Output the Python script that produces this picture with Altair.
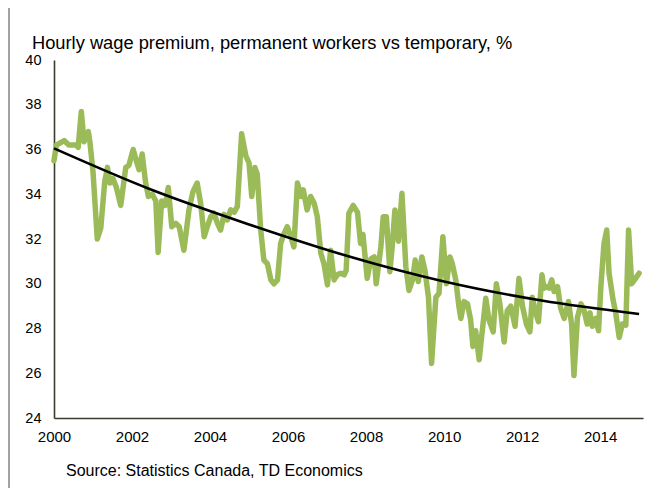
import altair as alt
import pandas as pd

# Monthly hourly wage premium (%)
years = [
    2000.00, 2000.06, 2000.26, 2000.38, 2000.56, 2000.62, 2000.70, 2000.77, 2000.88, 2000.92,
    2001.00, 2001.11, 2001.20, 2001.30, 2001.37, 2001.43, 2001.51, 2001.60, 2001.71, 2001.84,
    2001.92, 2002.03, 2002.11, 2002.18, 2002.26, 2002.35, 2002.42, 2002.52, 2002.61, 2002.67,
    2002.76, 2002.85, 2002.93, 2003.02, 2003.12, 2003.21, 2003.33, 2003.46, 2003.56, 2003.67,
    2003.76, 2003.85, 2003.93, 2004.02, 2004.10, 2004.19, 2004.27, 2004.36, 2004.44, 2004.53,
    2004.62, 2004.70, 2004.81, 2004.92, 2005.00, 2005.07, 2005.15, 2005.21, 2005.30, 2005.38,
    2005.47, 2005.56, 2005.64, 2005.73, 2005.81, 2005.90, 2005.98, 2006.07, 2006.15, 2006.24,
    2006.33, 2006.39, 2006.49, 2006.58, 2006.67, 2006.75, 2006.84, 2006.92, 2007.01, 2007.09,
    2007.18, 2007.26, 2007.35, 2007.44, 2007.49, 2007.56, 2007.67, 2007.78, 2007.86, 2007.92,
    2008.03, 2008.12, 2008.21, 2008.26, 2008.38, 2008.44, 2008.52, 2008.61, 2008.67, 2008.74,
    2008.83, 2008.92, 2009.02, 2009.10, 2009.19, 2009.26, 2009.34, 2009.43, 2009.51, 2009.60,
    2009.68, 2009.79, 2009.87, 2009.97, 2010.06, 2010.15, 2010.21, 2010.30, 2010.38, 2010.43,
    2010.51, 2010.60, 2010.68, 2010.74, 2010.81, 2010.90, 2010.98, 2011.07, 2011.15, 2011.26,
    2011.34, 2011.43, 2011.54, 2011.62, 2011.71, 2011.82, 2011.92, 2012.01, 2012.11, 2012.20,
    2012.26, 2012.35, 2012.42, 2012.51, 2012.56, 2012.62, 2012.69, 2012.76, 2012.82, 2012.91,
    2012.99, 2013.08, 2013.19, 2013.27, 2013.33, 2013.42, 2013.51, 2013.59, 2013.67, 2013.74,
    2013.80, 2013.89, 2013.96, 2014.02, 2014.10, 2014.17, 2014.23, 2014.33, 2014.40, 2014.49,
    2014.57, 2014.66, 2014.73, 2014.81, 2014.91, 2015.00,
]
premium = [
    35.5, 36.2, 36.4, 36.2, 36.2, 36.1, 37.7, 36.35, 36.8, 36.35,
    35.0, 32.0, 32.5, 34.56, 35.2, 34.5, 34.7, 34.3, 33.5, 35.2,
    35.3, 36.0, 35.5, 35.1, 35.8, 34.5, 33.9, 34.0, 33.7, 31.4,
    33.7, 33.5, 34.3, 32.55, 32.7, 32.55, 31.5, 33.3, 34.1, 34.5,
    33.6, 32.1, 32.55, 33.0, 33.15, 32.7, 32.4, 33.1, 32.85, 33.3,
    33.2, 33.45, 36.7, 35.7, 35.4, 33.9, 35.2, 34.9, 32.4, 31.06,
    30.9, 30.17, 30.0, 30.17, 31.8, 32.25, 32.55, 32.1, 31.65, 34.5,
    33.9, 34.2, 33.3, 33.9, 33.6, 33.0, 31.36, 30.9, 29.95, 31.5,
    30.17, 30.4, 30.47, 30.4, 30.6, 33.15, 33.5, 33.2, 31.8, 32.2,
    30.24, 31.1, 31.2, 30.0, 31.65, 33.0, 33.0, 30.54, 31.65, 33.3,
    31.9, 34.04, 30.76, 29.7, 30.17, 31.06, 30.1, 31.2, 30.6, 29.4,
    26.44, 29.4, 29.57, 32.1, 30.0, 31.2, 30.9, 30.17, 29.0, 28.45,
    29.2, 29.1, 28.4, 27.2, 27.9, 26.6, 27.9, 29.35, 28.4, 27.85,
    30.0, 29.1, 27.4, 28.8, 29.0, 28.1, 30.24, 29.0, 28.2, 27.85,
    29.4, 28.7, 28.3, 30.4, 29.8, 29.87, 29.8, 30.17, 29.65, 29.87,
    28.9, 28.45, 29.2, 28.2, 25.9, 28.5, 29.1, 28.8, 28.2, 28.7,
    28.1, 28.45, 27.9, 29.87, 31.8, 32.4, 30.47, 29.3, 28.7, 27.6,
    28.2, 28.15, 32.4, 30.0, 30.24, 30.47,
]

# Trend line
trend_years = [2000.0, 2002.5, 2005.0, 2007.5, 2010.0, 2012.5, 2015.0]
trend_values = [36.05, 34.2, 32.65, 31.25, 30.1, 29.25, 28.65]

y_ticks = [24, 26, 28, 30, 32, 34, 36, 38, 40]
x_ticks = [2000, 2002, 2004, 2006, 2008, 2010, 2012, 2014]

title_text = "Hourly wage premium, permanent workers vs temporary, %"
source_text = "Source: Statistics Canada, TD Economics"

FONT = "Liberation Sans"
AXIS_COLOR = "#363d2b"

df = pd.DataFrame({"year": years, "premium": premium})
trend_df = pd.DataFrame({"year": trend_years, "premium": trend_values})

x_enc = alt.X(
    "year:Q",
    scale=alt.Scale(domain=[2000, 2015.1], nice=False, zero=False),
    axis=alt.Axis(
        values=x_ticks, format="d", title=None, grid=False, ticks=False,
        domainColor=AXIS_COLOR, domainWidth=1.6, labelFont=FONT,
        labelFontSize=15, labelColor="black", labelPadding=11,
        labelFlush=False,
    ),
)
y_enc = alt.Y(
    "premium:Q",
    scale=alt.Scale(domain=[24, 40], nice=False, zero=False),
    axis=alt.Axis(
        values=y_ticks, title=None, grid=False, ticks=False,
        domainColor=AXIS_COLOR, domainWidth=1.6, labelFont=FONT,
        labelFontSize=14.5, labelColor="black", labelPadding=13,
    ),
)

line = alt.Chart(df).mark_line(
    color="#9bbb59", strokeWidth=5.5, strokeJoin="round", strokeCap="round"
).encode(x=x_enc, y=y_enc)

trend = alt.Chart(trend_df).mark_line(
    color="black", strokeWidth=2.6, interpolate="monotone"
).encode(x="year:Q", y="premium:Q")

title = alt.Chart(pd.DataFrame({"t": [title_text]})).mark_text(
    align="left", baseline="middle", font=FONT, fontSize=18.3, color="black"
).encode(x=alt.value(-22), y=alt.value(-16), text="t:N")

source = alt.Chart(pd.DataFrame({"t": [source_text]})).mark_text(
    align="left", baseline="middle", font=FONT, fontSize=16, color="black"
).encode(x=alt.value(12), y=alt.value(411), text="t:N")

border = alt.Chart(pd.DataFrame({"a": [0]})).mark_rule(
    color="#444444", strokeWidth=1
).encode(x=alt.value(-45), y=alt.value(-52), y2=alt.value(428))

chart = alt.layer(line, trend, title, source, border).properties(
    width=589,
    height=358,
    padding={"left": 46, "top": 52, "right": 12, "bottom": 70},
    autosize=alt.AutoSizeParams(type="none"),
).configure_view(stroke=None)

chart.save("out.html", embed_options={"renderer": "svg", "actions": False})
